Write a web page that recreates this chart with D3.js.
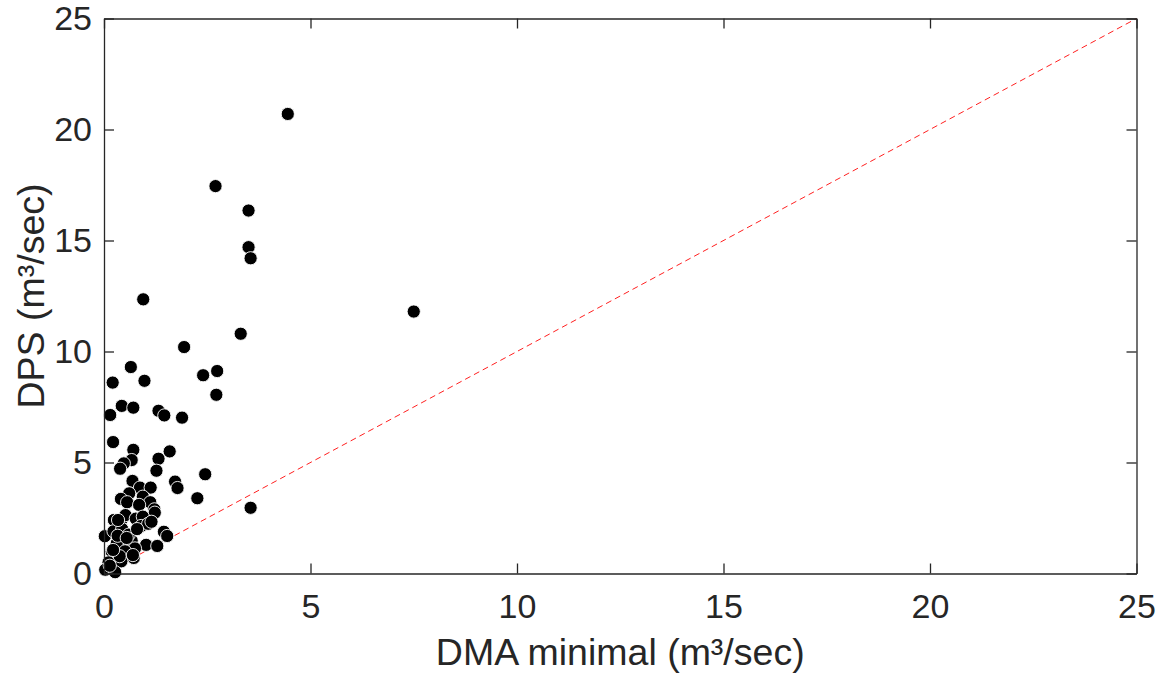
<!DOCTYPE html>
<html>
<head>
<meta charset="utf-8">
<script src="https://cdn.jsdelivr.net/npm/d3@7/dist/d3.min.js"></script>
<style>
  html, body { margin: 0; padding: 0; background: #fff; }
  svg { display: block; font-family: "Liberation Sans", Arial, Helvetica, sans-serif; }
</style>
</head>
<body>
<svg id="chart" width="1160" height="675"></svg>
<script>
// Minimal DMA flow (x) against DPS flow (y), both in m³/sec
const dmaMinimal = [
  4.45, 2.70, 3.50, 3.50, 3.55, 0.95, 7.50, 3.31, 1.94, 0.65,
  0.21, 0.98, 2.40, 2.74, 2.72, 0.43, 0.71, 0.15, 1.32, 1.46,
  1.89, 0.22, 0.71, 1.59, 1.32, 0.67, 0.48, 0.39, 1.27, 2.45,
  1.72, 1.78, 0.69, 0.87, 1.13, 0.61, 0.94, 0.41, 2.26, 0.56,
  1.12, 0.85, 1.22, 1.23, 3.55, 0.24, 0.43, 0.52, 0.77, 0.94,
  0.90, 1.07, 0.02, 0.23, 0.44, 1.45, 1.53, 1.02, 1.29, 0.46,
  0.67, 0.75, 0.31, 0.51, 0.19, 0.72, 0.42, 0.11, 0.03, 0.27,
  0.38, 0.22, 0.34, 1.15, 0.70, 0.60, 0.33, 0.55, 0.80, 0.14
];
const dpsFlow = [
  20.70, 17.45, 16.35, 14.70, 14.20, 12.35, 11.80, 10.80, 10.20, 9.30,
  8.60, 8.68, 8.93, 9.12, 8.05, 7.55, 7.47, 7.14, 7.33, 7.12,
  7.02, 5.92, 5.57, 5.50, 5.17, 5.11, 4.96, 4.72, 4.63, 4.47,
  4.14, 3.85, 4.17, 3.87, 3.87, 3.61, 3.46, 3.36, 3.39, 3.21,
  3.21, 3.09, 2.89, 2.74, 2.96, 2.41, 2.44, 2.63, 2.47, 2.56,
  2.14, 2.24, 1.68, 1.90, 2.00, 1.88, 1.69, 1.29, 1.24, 1.46,
  1.48, 1.13, 1.36, 1.00, 0.98, 0.70, 0.55, 0.50, 0.17, 0.06,
  0.78, 1.06, 2.41, 2.33, 0.83, 1.75, 1.70, 1.60, 2.00, 0.35
];
const xTicks = [0, 5, 10, 15, 20, 25];
const yTicks = [0, 5, 10, 15, 20, 25];
const axisDomain = [0, 25];
const xLabel = "DMA minimal (m³/sec)";
const yLabel = "DPS (m³/sec)";

const points = dmaMinimal.map((d, i) => ({ x: d, y: dpsFlow[i] }));

const svg = d3.select("#chart");
const plotLeft = 104, plotRight = 1136.5, plotTop = 18.5, plotBottom = 573.5;
const ink = "#262626";

const x = d3.scaleLinear().domain(axisDomain).range([plotLeft, plotRight]);
const y = d3.scaleLinear().domain(axisDomain).range([plotBottom, plotTop]);

// Identity reference line y = x
svg.append("line")
  .attr("x1", x(axisDomain[0])).attr("y1", y(axisDomain[0]))
  .attr("x2", x(axisDomain[1])).attr("y2", y(axisDomain[1]))
  .attr("stroke", "#ff2020").attr("stroke-width", 1)
  .attr("stroke-dasharray", "6,4");

// Scatter markers
svg.append("g").selectAll("circle")
  .data(points)
  .join("circle")
  .attr("cx", d => x(d.x))
  .attr("cy", d => y(d.y))
  .attr("r", 6.6)
  .attr("fill", "#000")
  .attr("stroke", "#fff")
  .attr("stroke-width", 0.9);

// Axes: inward ticks on all four sides, labels on bottom and left
const tickLen = 10;
const fontSize = 34;

const gBottom = svg.append("g").attr("transform", `translate(0,${plotBottom})`)
  .call(d3.axisBottom(x).tickValues(xTicks).tickSizeInner(-tickLen).tickSizeOuter(0).tickPadding(20));
const gLeft = svg.append("g").attr("transform", `translate(${plotLeft},0)`)
  .call(d3.axisLeft(y).tickValues(yTicks).tickSizeInner(-tickLen).tickSizeOuter(0).tickPadding(12));
const gTop = svg.append("g").attr("transform", `translate(0,${plotTop})`)
  .call(d3.axisTop(x).tickValues(xTicks).tickSizeInner(-tickLen).tickSizeOuter(0).tickFormat(""));
const gRight = svg.append("g").attr("transform", `translate(${plotRight},0)`)
  .call(d3.axisRight(y).tickValues(yTicks).tickSizeInner(-tickLen).tickSizeOuter(0).tickFormat(""));

[gBottom, gLeft, gTop, gRight].forEach(g => {
  g.select(".domain").attr("stroke", ink).attr("stroke-width", 1.3);
  g.selectAll(".tick line").attr("stroke", ink).attr("stroke-width", 1.3);
  g.selectAll(".tick text")
    .attr("fill", ink)
    .attr("font-size", fontSize)
    .attr("font-family", "'Liberation Sans', Arial, Helvetica, sans-serif");
});

// Axis titles
svg.append("text")
  .attr("x", (plotLeft + plotRight) / 2).attr("y", 665)
  .attr("text-anchor", "middle")
  .attr("fill", ink).attr("font-size", 37.5)
  .text(xLabel);

svg.append("text")
  .attr("transform", `translate(44,${(plotTop + plotBottom) / 2}) rotate(-90)`)
  .attr("text-anchor", "middle")
  .attr("fill", ink).attr("font-size", 37.5)
  .text(yLabel);
</script>
</body>
</html>
